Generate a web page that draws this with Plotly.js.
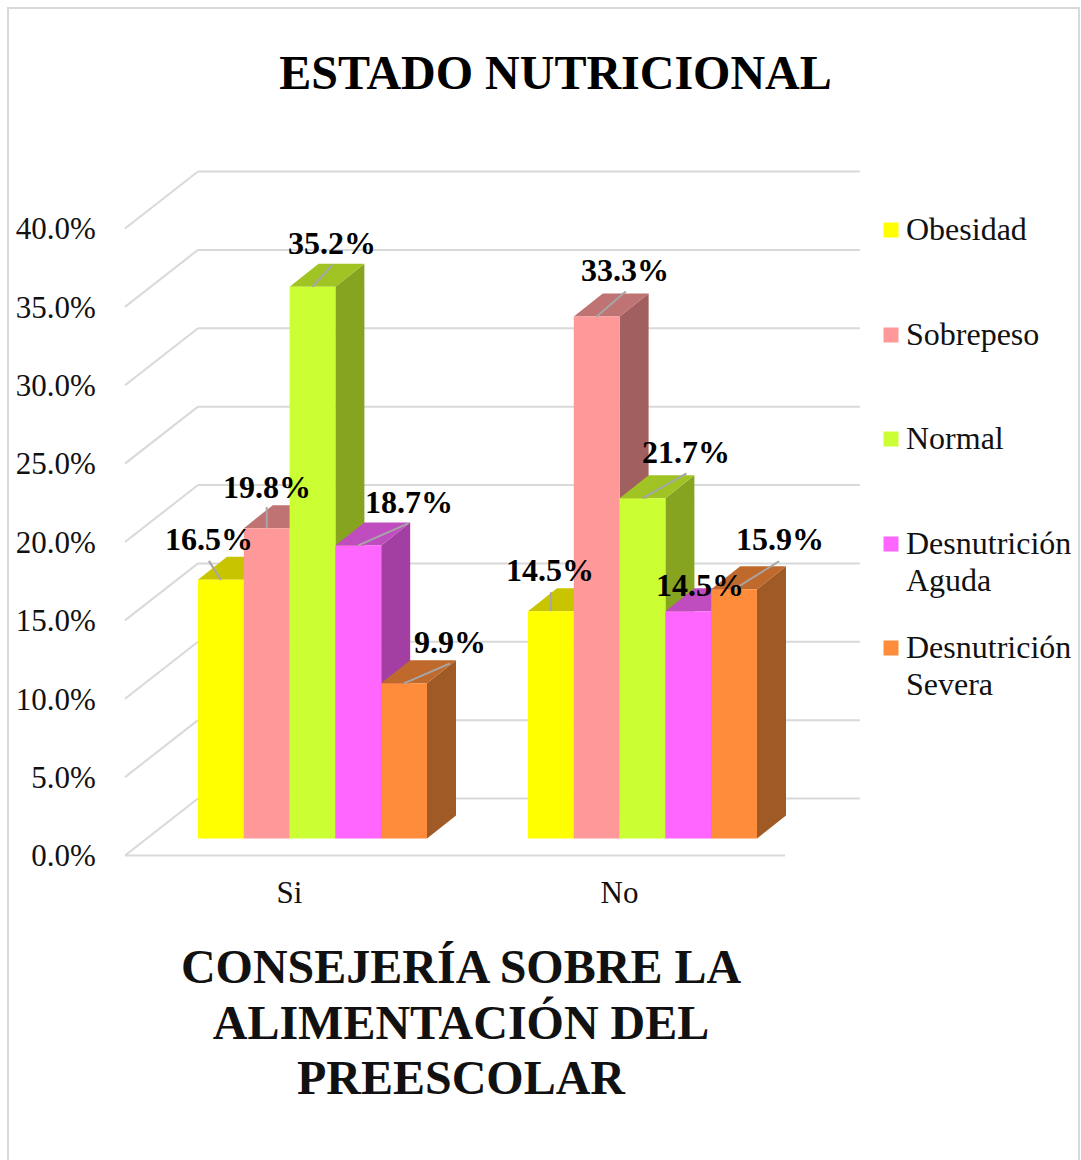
<!DOCTYPE html>
<html><head><meta charset="utf-8">
<script src="https://cdn.plot.ly/plotly-3.0.1.min.js"></script>
<style>html,body{margin:0;padding:0;background:#fff}</style></head>
<body><div id="chart" style="width:1081px;height:1160px"></div>
<script>
const categories = ["Si", "No"];
const seriesNames = ["Obesidad", "Sobrepeso", "Normal", "Desnutrición<br>Aguda", "Desnutrición<br>Severa"];
const obesidad = [16.5, 14.5];
const sobrepeso = [19.8, 33.3];
const normal = [35.2, 21.7];
const aguda = [18.7, 14.5];
const severa = [9.9, 15.9];
const yTicks = [0, 5, 10, 15, 20, 25, 30, 35, 40];

const frontColors = ["#FFFF00", "#FF9999", "#CCFF33", "#FF66FF", "#FF8C3A"];
const topColors = ["#C8C400", "#BF7373", "#9FC424", "#BF4DBF", "#BF6A2C"];
const sideColors = ["#A6A600", "#A15F5F", "#86A420", "#A33FA3", "#A05A25"];
const allSeries = [obesidad, sobrepeso, normal, aguda, severa];

// label offsets from the bar's top-centre, in px [dx, dy]
const labelOffsets = [
  [[-12,-41],[0,-41],[19,-44],[51,-43],[46,-41]],
  [[-1,-41],[28,-47],[43,-46],[12,-26],[46,-50]]
];
const leaderOffsets = [
  [[-12,-19],[0,-21],[20,-22],[50,-22],[46,-20]],
  [[0,-19],[29,-25],[44,-25],null,[45,-28]]
];

const W = 1081, H = 1160;
const L = 52, R = 870, T = 160, B = 860, zeroPx = 855.5;
const pxPerCat = 330, pxPerPct = 15.675, cat0Px = 289.5;
const px2x = d => d / pxPerCat;
const px2y = d => d / pxPerPct;
const xRange = [(L - cat0Px) / pxPerCat, (R - cat0Px) / pxPerCat];
const yRange = [(zeroPx - B) / pxPerPct, (zeroPx - T) / pxPerPct];

const barW = px2x(45.8), shiftX = px2x(23), baseY = px2y(17);
const depX = px2x(29), depY = px2y(23);
const wallX = px2x(73), wallY = px2y(57);
const floorLeft = px2x(125 - cat0Px), floorRight = px2x(785 - cat0Px), backRight = px2x(860 - cat0Px);
const grid = "#D9D9D9";
const serif = "Liberation Serif";

const shapes = [];
// walls
yTicks.forEach(t => {
  shapes.push({type:"line", xref:"x", yref:"y", layer:"below", x0:floorLeft, y0:t, x1:floorLeft+wallX, y1:t+wallY, line:{color:grid,width:2}});
  shapes.push({type:"line", xref:"x", yref:"y", layer:"below", x0:floorLeft+wallX, y0:t+wallY, x1:backRight, y1:t+wallY, line:{color:grid,width:2}});
});
shapes.push({type:"line", xref:"x", yref:"y", layer:"below", x0:floorLeft, y0:0, x1:floorRight, y1:0, line:{color:grid,width:2}});

const traces = [];
const annotations = [];
const leaders = [];
const poly = pts => "M" + pts.map(p => p[0] + "," + p[1]).join(" L") + " Z";

categories.forEach((c, ci) => {
  allSeries.forEach((vals, si) => {
    const cx = ci + shiftX + (si - 2) * barW;
    const x0 = cx - barW/2, x1 = cx + barW/2, top = baseY + vals[ci];
    shapes.push({type:"path", xref:"x", yref:"y", layer:"below", line:{width:0}, fillcolor:sideColors[si],
      path: poly([[x1,baseY],[x1,top],[x1+depX,top+depY],[x1+depX,baseY+depY]])});
    shapes.push({type:"path", xref:"x", yref:"y", layer:"below", line:{width:0}, fillcolor:topColors[si],
      path: poly([[x0,top],[x1,top],[x1+depX,top+depY],[x0+depX,top+depY]])});
    const lead = leaderOffsets[ci][si];
    if (lead) leaders.push({type:"line", xref:"x", yref:"y", layer:"above",
      x0:cx, y0:top, x1:cx+px2x(lead[0]), y1:top-px2y(lead[1]), line:{color:"#A6A6A6",width:2}});
    const off = labelOffsets[ci][si];
    annotations.push({xref:"x", yref:"y", x:cx, y:top, xshift:off[0], yshift:-off[1], showarrow:false,
      xanchor:"center", yanchor:"middle", text:vals[ci].toFixed(1)+"%",
      font:{family:serif,size:32,color:"#000",weight:700}});
  });
});

seriesNames.forEach((n, si) => {
  traces.push({type:"bar", name:n.replace("<br>"," "),
    x: categories.map((c, ci) => ci + shiftX + (si - 2) * barW),
    y: allSeries[si], base: categories.map(() => baseY), width: categories.map(() => barW),
    marker:{color:frontColors[si], line:{width:0}}, hoverinfo:"name+y", showlegend:false, cliponaxis:false});
});

// legend
const fx = p => (p - L) / (R - L), fy = p => (B - p) / (B - T);
const legendCenters = [230, 335, 439, 544, 648];
seriesNames.forEach((n, si) => {
  const c = legendCenters[si];
  shapes.push({type:"rect", xref:"paper", yref:"paper", x0:fx(883.5), x1:fx(898.5), y0:fy(c+7.5), y1:fy(c-7.5), fillcolor:frontColors[si], line:{width:0}});
  annotations.push({xref:"paper", yref:"paper", x:fx(905), y:fy(c-20), xanchor:"left", yanchor:"top", align:"left", showarrow:false,
    text:n, font:{family:serif,size:32,color:"#111"}, borderpad:0});
});
// outer border
shapes.push({type:"path", xref:"paper", yref:"paper", line:{color:grid,width:2},
  path:`M${fx(8)},${fy(1160)} L${fx(8)},${fy(8)} L${fx(1079)},${fy(8)} L${fx(1079)},${fy(1160)}`});

Plotly.newPlot("chart", traces, {
  width:W, height:H, autosize:false, paper_bgcolor:"#fff", plot_bgcolor:"rgba(0,0,0,0)",
  margin:{l:L, r:W-R, t:T, b:H-B, pad:0},
  barmode:"overlay", showlegend:false,
  title:{text:"ESTADO NUTRICIONAL", xref:"container", yref:"container", x:555.5/W, y:1-72/H, xanchor:"center", yanchor:"middle",
    font:{family:serif,size:48,color:"#000",weight:700}},
  xaxis:{range:xRange, tickmode:"array", tickvals:categories.map((c,i)=>i), ticktext:categories,
    showgrid:false, zeroline:false, showline:false, ticks:"outside", ticklen:5, tickcolor:"rgba(0,0,0,0)",
    tickfont:{family:serif,size:31,color:"#111"}, automargin:false,
    title:{text:"CONSEJERÍA SOBRE LA<br>ALIMENTACIÓN DEL<br>PREESCOLAR", standoff:40,
      font:{family:serif,size:48,color:"#111",weight:700}}},
  yaxis:{range:yRange, anchor:"free", position:(125-L)/(R-L), tickmode:"array", tickvals:yTicks, ticktext:yTicks.map(t=>t.toFixed(1)+"%"),
    showgrid:false, zeroline:false, showline:false, ticks:"outside", ticklen:23, tickcolor:"rgba(0,0,0,0)",
    tickfont:{family:serif,size:31,color:"#111"}, automargin:false},
  shapes: shapes.concat(leaders),
  annotations
}, {displayModeBar:false, responsive:false}).then(gd => {
  // tighter line spacing for multi-line text, as in the reference
  gd.querySelectorAll("tspan.line").forEach(t => {
    const dy = parseFloat(t.getAttribute("dy"));
    if (dy > 0) t.setAttribute("dy", (dy / 1.3 * 1.156) + "em");
  });
});
</script></body></html>
